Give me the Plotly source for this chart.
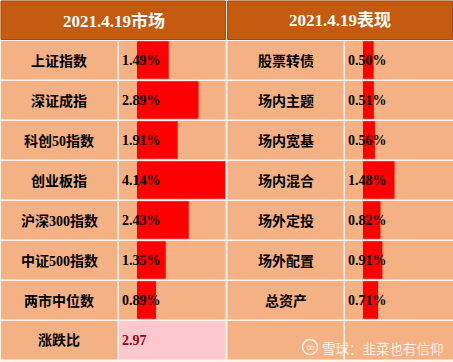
import plotly.graph_objects as go

# ---------------- data ----------------
header_left = "2021.4.19市场"
header_right = "2021.4.19表现"
labels_left = ["上证指数", "深证成指", "科创50指数", "创业板指", "沪深300指数", "中证500指数", "两市中位数"]
values_left = [1.49, 2.89, 1.91, 4.14, 2.43, 1.35, 0.89]
labels_right = ["股票转债", "场内主题", "场内宽基", "场内混合", "场外定投", "场外配置", "总资产"]
values_right = [0.50, 0.51, 0.56, 1.48, 0.82, 0.91, 0.71]
ratio_label = "涨跌比"
ratio_value = 2.97
watermark = "雪球：韭菜也有信仰"

# ---------------- layout geometry (pixels) ----------------
W, H = 453, 362
ROW_H = 40
HEAD_H = 40
n_rows = len(labels_left) + 1  # + ratio row
tables = [
    dict(x0=1, xs=117.5, x1=226, bar0=137, header=header_left,
         labels=labels_left, values=values_left, xa="x2", ya="y2"),
    dict(x0=227.5, xs=343.5, x1=453, bar0=363, header=header_right,
         labels=labels_right, values=values_right, xa="x3", ya="y3"),
]
PX_PER_PCT = 21.3

SALMON = "#F4B183"
HEAD = "#C55A11"
BAR = "#FF0000"
LINE_BG = "#FFF3EA"
SERIF = "Liberation Serif, Noto Sans CJK SC, serif"
CJK = "Noto Sans CJK SC, Liberation Serif, sans-serif"

fig = go.Figure()
# invisible trace to anchor pixel axes
fig.add_trace(go.Scatter(x=[0], y=[0], mode="markers", marker=dict(opacity=0),
                         hoverinfo="skip", showlegend=False, xaxis="x", yaxis="y"))

shapes = []
annotations = []

def rect(x0, y0, x1, y1, color, line=None, layer="below"):
    d = dict(type="rect", xref="x", yref="y", x0=x0, y0=y0, x1=x1, y1=y1,
             fillcolor=color, layer=layer, line=dict(width=0))
    if line:
        d["line"] = dict(color=line, width=1)
    shapes.append(d)

for ti, t in enumerate(tables):
    # header
    rect(t["x0"], 1, t["x1"] - 0.5, HEAD_H - 0.5, HEAD, line="#A6470C")
    annotations.append(dict(x=(t["x0"] + t["x1"]) / 2, y=HEAD_H / 2 + 0.5, xref="x", yref="y",
                            text="<b>" + t["header"] + "</b>", showarrow=False,
                            font=dict(family=SERIF, size=17, color="white")))
    for r in range(n_rows):
        y0 = HEAD_H + 1 + r * ROW_H
        y1 = HEAD_H + (r + 1) * ROW_H - 0.5
        rect(t["x0"], y0, t["xs"], y1, SALMON)
        vcolor = SALMON
        if ti == 0 and r == n_rows - 1:
            vcolor = "#FFC7CE"
        rect(t["xs"] + 1.5, y0, t["x1"] - 0.5 if ti == 0 else t["x1"], y1, vcolor)
        yc = HEAD_H + r * ROW_H + ROW_H / 2 + 0.5
        if r < len(t["labels"]):
            annotations.append(dict(x=(t["x0"] + t["xs"]) / 2, y=yc, xref="x", yref="y",
                                    text="<b>" + t["labels"][r] + "</b>", showarrow=False,
                                    font=dict(family=SERIF, size=14, color="black")))
            annotations.append(dict(x=t["xs"] + 2.5, y=yc, xref="x", yref="y", xanchor="left",
                                    text="<b>%.2f%%</b>" % t["values"][r], showarrow=False,
                                    font=dict(family=SERIF, size=14, color="black")))
        elif ti == 0:
            annotations.append(dict(x=(t["x0"] + t["xs"]) / 2, y=yc, xref="x", yref="y",
                                    text="<b>" + ratio_label + "</b>", showarrow=False,
                                    font=dict(family=SERIF, size=14, color="black")))
            annotations.append(dict(x=t["xs"] + 2.5, y=yc, xref="x", yref="y", xanchor="left",
                                    text="<b>%.2f</b>" % ratio_value, showarrow=False,
                                    font=dict(family=SERIF, size=14, color="#9C0006")))

    # data bars
    fig.add_trace(go.Bar(y=t["labels"], x=t["values"], orientation="h", width=0.94,
                         marker=dict(color=BAR, line=dict(width=0)),
                         xaxis=t["xa"], yaxis=t["ya"], showlegend=False, hoverinfo="skip"))

# watermark
shapes.append(dict(type="circle", xref="x", yref="y", x0=302.5, y0=339.5, x1=317.5, y1=354.5,
                   line=dict(color="rgba(255,255,255,0.85)", width=1.5), layer="above"))
annotations.append(dict(x=320, y=347.5, xref="x", yref="y", xanchor="left",
                        text=watermark, showarrow=False,
                        font=dict(family=CJK, size=13.5, color="rgba(255,255,255,0.85)")))
annotations.append(dict(x=310, y=347, xref="x", yref="y",
                        text="∞", showarrow=False,
                        font=dict(family="DejaVu Sans", size=11, color="rgba(255,255,255,0.85)")))

bar_span = (226 - 137) / PX_PER_PCT
y_dom = [(H - (HEAD_H + 7 * ROW_H)) / H, (H - HEAD_H) / H]

hidden = dict(visible=False, showgrid=False, zeroline=False, fixedrange=True)
fig.update_layout(
    width=W, height=H, margin=dict(l=0, r=0, t=0, b=0),
    paper_bgcolor=LINE_BG, plot_bgcolor="rgba(0,0,0,0)",
    xaxis=dict(range=[0, W], domain=[0, 1], **hidden),
    yaxis=dict(range=[H, 0], domain=[0, 1], **hidden),
    xaxis2=dict(range=[0, bar_span], domain=[137 / W, 226 / W], anchor="y2", **hidden),
    yaxis2=dict(range=[6.5, -0.5], domain=y_dom, anchor="x2", type="category", **hidden),
    xaxis3=dict(range=[0, bar_span], domain=[363 / W, 452 / W], anchor="y3", **hidden),
    yaxis3=dict(range=[6.5, -0.5], domain=y_dom, anchor="x3", type="category", **hidden),
    shapes=shapes, annotations=annotations, bargap=0.06,
)

fig.write_html("out.html", config={"displayModeBar": False},
               post_script="document.body.style.margin='0';document.body.style.overflow='hidden';")
